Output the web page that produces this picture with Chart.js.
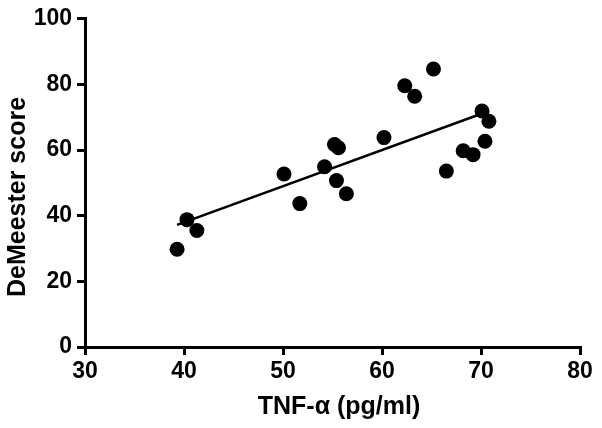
<!DOCTYPE html>
<html><head><meta charset="utf-8">
<script src="https://cdn.jsdelivr.net/npm/chart.js@4/dist/chart.umd.min.js"></script>
<style>html,body{margin:0;padding:0;background:#fff}#wrap{width:602px;height:428px}</style>
</head><body><div id="wrap"><canvas id="c" width="602" height="428"></canvas></div>
<script>
const tnfValues = [39.3, 40.3, 41.3, 50.1, 51.7, 54.2, 55.2, 55.6, 55.4, 56.4, 60.2, 62.3, 63.3, 65.2, 66.5, 68.2, 69.2, 70.1, 70.4, 70.8];
const deMeesterValues = [29.8, 38.8, 35.5, 52.7, 43.7, 54.9, 61.7, 60.7, 50.7, 46.7, 63.8, 79.6, 76.4, 84.7, 53.6, 59.8, 58.6, 71.9, 62.7, 68.8];
const fitX = [39.3, 70.8];
const fitY = [37.2, 71.9];
const xTicks = [30, 40, 50, 60, 70, 80];
const yTicks = [0, 20, 40, 60, 80, 100];
const xTitle = 'TNF-α (pg/ml)';
const yTitle = 'DeMeester score';

const pts = tnfValues.map((x, i) => ({x, y: deMeesterValues[i]}));
const fit = fitX.map((x, i) => ({x, y: fitY[i]}));
const fam = '"Liberation Sans", Arial, sans-serif';
const font = {family: fam, weight: 'bold'};

const titles = {
  id: 'titles',
  afterDraw(chart) {
    const ctx = chart.ctx;
    ctx.save();
    ctx.fillStyle = '#000';
    ctx.font = 'bold 25px ' + fam;
    ctx.textAlign = 'center';
    ctx.textBaseline = 'alphabetic';
    ctx.fillText(xTitle, 339, 414);
    ctx.translate(25, 197);
    ctx.rotate(-Math.PI / 2);
    ctx.fillText(yTitle, 0, 0);
    ctx.restore();
  }
};

new Chart(document.getElementById('c'), {
  type: 'scatter',
  data: {datasets: [
    {data: fit, showLine: true, borderColor: '#000', borderWidth: 2.5, pointRadius: 0, order: 2},
    {data: pts, backgroundColor: '#000', borderColor: '#000', pointRadius: 7.5, pointBorderWidth: 0, order: 1}
  ]},
  plugins: [titles],
  options: {
    responsive: false, animation: false, devicePixelRatio: 1,
    layout: {padding: {top: 16, right: 22, left: 0, bottom: 0}},
    plugins: {legend: {display: false}, tooltip: {enabled: false}},
    scales: {
      x: {
        type: 'linear', min: 30, max: 80,
        afterBuildTicks: s => { s.ticks = xTicks.map(v => ({value: v})); },
        afterFit: s => { s.height = 81; },
        border: {display: true, color: '#000', width: 3},
        grid: {display: true, drawOnChartArea: false, drawTicks: true, tickLength: 8, color: '#000', lineWidth: 3},
        ticks: {color: '#000', padding: 3, font: {...font, size: 23}, maxRotation: 0},
        title: {display: false}
      },
      y: {
        type: 'linear', min: 0, max: 100,
        afterBuildTicks: s => { s.ticks = yTicks.map(v => ({value: v})); },
        afterFit: s => { s.width = 85; },
        border: {display: true, color: '#000', width: 3},
        grid: {display: true, drawOnChartArea: false, drawTicks: true, tickLength: 8, color: '#000', lineWidth: 3},
        ticks: {color: '#000', padding: 5, font: {...font, size: 23}},
        title: {display: false}
      }
    }
  }
});
</script></body></html>
